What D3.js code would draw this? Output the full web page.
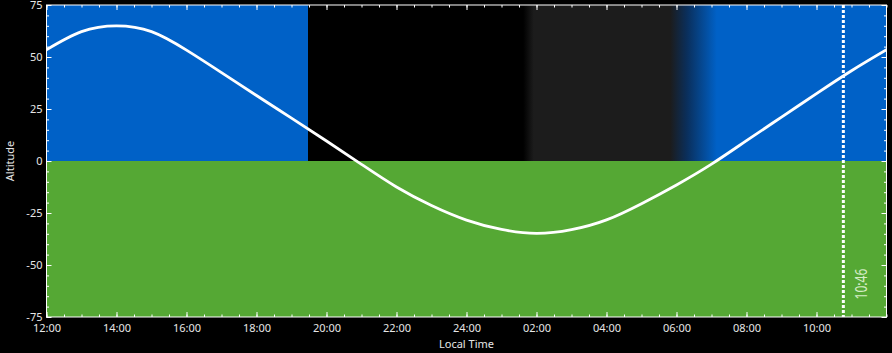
<!DOCTYPE html>
<html><head><meta charset="utf-8">
<script src="https://cdn.jsdelivr.net/npm/d3@7"></script>
<style>
html,body{margin:0;padding:0;background:#000;}
svg{display:block;}
text{font-family:"Noto Sans",sans-serif;fill:#e6e6e6;}
</style></head><body>
<div id="chart"></div>
<script>
// Hours since 12:00 of day 1 expressed as 12..36
const hours = [12,13,14,15,16,17,18,19,20,21,22,23,24,25,26,27,28,29,30,31,32,33,34,35,36];
const altitude = [53.5,62.2,65,62.2,53.3,42.5,31.5,20.6,9.6,-1.6,-12.5,-21.4,-28.4,-32.9,-34.8,-33,-28.3,-20.5,-11.5,-1.5,9.8,21.1,32.4,43.4,53.5];
const xTickValues = [12,14,16,18,20,22,24,26,28,30,32,34];
const xTickLabels = ["12:00","14:00","16:00","18:00","20:00","22:00","24:00","02:00","04:00","06:00","08:00","10:00"];
const yTickValues = [75,50,25,0,-25,-50,-75];
const yTickLabels = ["75","50","25","0","-25","-50","-75"];
// sky background above horizon: time stops and colours
const skyStops = [12,19.47,19.47,25.62,25.92,29.82,30.3,31.15,36];
const skyColors = ["#0061c7","#0061c7","#000000","#000000","#1c1c1c","#1c1c1c","#0a2f5c","#0061c7","#0061c7"];
const nowTime = [34.767];
const nowLabel = ["10:46"];

const W = 892, H = 353;
const m = {l:46.5, r:5.5, t:5, b:36};
const svg = d3.select("#chart").append("svg").attr("width",W).attr("height",H);
const x = d3.scaleLinear().domain([12,36]).range([m.l, W-m.r]);
const y = d3.scaleLinear().domain([-75,75]).range([H-m.b, m.t]);

const defs = svg.append("defs");
const grad = defs.append("linearGradient").attr("id","sky")
  .attr("gradientUnits","userSpaceOnUse")
  .attr("x1",x(12)).attr("x2",x(36)).attr("y1",0).attr("y2",0);
skyStops.forEach((t,i)=>{
  grad.append("stop").attr("offset",(t-12)/24).attr("stop-color",skyColors[i]);
});

// sky
svg.append("rect").attr("x",x(12)).attr("y",y(75))
  .attr("width",x(36)-x(12)).attr("height",y(0)-y(75)).attr("fill","url(#sky)");
// ground
svg.append("rect").attr("x",x(12)).attr("y",y(0))
  .attr("width",x(36)-x(12)).attr("height",y(-75)-y(0)).attr("fill","#55a834");

const clip = defs.append("clipPath").attr("id","clip");
clip.append("rect").attr("x",x(12)).attr("y",y(75)).attr("width",x(36)-x(12)).attr("height",y(-75)-y(75));

// altitude curve
const line = d3.line().x((d,i)=>x(hours[i])).y(d=>y(d)).curve(d3.curveNatural);
svg.append("path").datum(altitude).attr("d",line)
  .attr("fill","none").attr("stroke","#fff").attr("stroke-width",2.8)
  .attr("clip-path","url(#clip)");

// now marker
svg.selectAll(".now").data(nowTime).enter().append("line")
  .attr("x1",d=>x(d)).attr("x2",d=>x(d)).attr("y1",y(75)).attr("y2",y(-75))
  .attr("stroke","#fff").attr("stroke-width",3).attr("stroke-dasharray","3,2");
svg.selectAll(".nowlbl").data(nowTime).enter().append("text")
  .attr("transform",d=>`translate(${x(d)+24},284) rotate(-90)`)
  .attr("text-anchor","middle").attr("font-size",17)
  .attr("textLength",31).attr("lengthAdjust","spacingAndGlyphs")
  .style("fill","#d4ecc6").text(nowLabel[0]);

// axes
const xMinor = d3.range(12,36.01,0.5);
const yMinor = d3.range(-75,75.01,5);
function styleAxis(g){
  g.select(".domain").remove();
  g.selectAll("line").attr("stroke","#fff");
  g.selectAll("text").attr("font-size",11).style("fill","#e6e6e6");
}
// bottom
svg.append("g").attr("transform",`translate(0,${y(-75)})`)
  .call(d3.axisBottom(x).tickValues(xMinor).tickSize(-2.5).tickFormat(""))
  .call(styleAxis);
svg.append("g").attr("transform",`translate(0,${y(-75)})`)
  .call(d3.axisBottom(x).tickValues(xTickValues).tickSize(-5).tickPadding(7)
    .tickFormat((d,i)=>xTickLabels[i]))
  .call(styleAxis);
// top
svg.append("g").attr("transform",`translate(0,${y(75)})`)
  .call(d3.axisTop(x).tickValues(xMinor).tickSize(-2.5).tickFormat("")).call(styleAxis);
svg.append("g").attr("transform",`translate(0,${y(75)})`)
  .call(d3.axisTop(x).tickValues(xTickValues).tickSize(-5).tickFormat("")).call(styleAxis);
// left
svg.append("g").attr("transform",`translate(${x(12)},0)`)
  .call(d3.axisLeft(y).tickValues(yMinor).tickSize(-2.5).tickFormat("")).call(styleAxis);
svg.append("g").attr("transform",`translate(${x(12)},0)`)
  .call(d3.axisLeft(y).tickValues(yTickValues).tickSize(-5).tickPadding(4)
    .tickFormat((d,i)=>yTickLabels[i])).call(styleAxis);
// right
svg.append("g").attr("transform",`translate(${x(36)},0)`)
  .call(d3.axisRight(y).tickValues(yMinor).tickSize(-2.5).tickFormat("")).call(styleAxis);
svg.append("g").attr("transform",`translate(${x(36)},0)`)
  .call(d3.axisRight(y).tickValues(yTickValues).tickSize(-5).tickFormat("")).call(styleAxis);

// frame
svg.append("rect").attr("x",x(12)).attr("y",y(75))
  .attr("width",x(36)-x(12)).attr("height",y(-75)-y(75))
  .attr("fill","none").attr("stroke","#fff").attr("stroke-width",1);

// axis titles
svg.append("text").attr("x",(x(12)+x(36))/2).attr("y",348)
  .attr("text-anchor","middle").attr("font-size",11).text("Local Time");
svg.append("text").attr("transform",`translate(13.5,${y(0)}) rotate(-90)`)
  .attr("text-anchor","middle").attr("font-size",11).text("Altitude");
</script></body></html>
